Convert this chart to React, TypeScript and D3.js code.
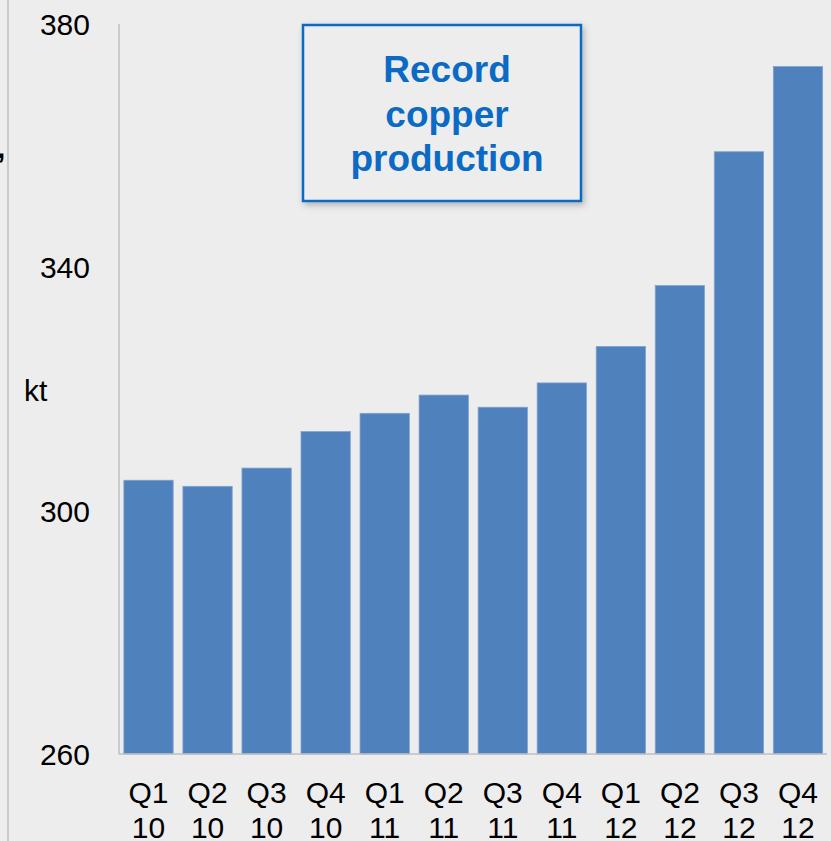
import React from "react";
import * as d3 from "d3";

const categories = ["Q1 10", "Q2 10", "Q3 10", "Q4 10", "Q1 11", "Q2 11", "Q3 11", "Q4 11", "Q1 12", "Q2 12", "Q3 12", "Q4 12"];
const production = [305, 304, 307, 313, 316, 319, 317, 321, 327, 337, 359, 373];
const yTicks = [260, 300, 340, 380];
const annotationLines = ["Record", "copper", "production"];
const unitLabel = "kt";

const W = 831;
const H = 841;

export default function App() {
  const x = d3.scaleBand<string>().domain(categories).range([119, 827.5]).paddingInner(0.165).paddingOuter(0.0825);
  const y = d3.scaleLinear().domain([260, 380]).range([754, 24]);
  const font = "Arial, 'Liberation Sans', sans-serif";
  const last = categories[categories.length - 1];
  const boxX0 = 303, boxX1 = 581, boxY0 = 25, boxY1 = 201;
  const lineY = 112.5;
  return (
    <svg width={W} height={H} style={{ position: "absolute", left: 0, top: 0, background: "#EDEDED" }} fontFamily={font}>
      <defs>
        <filter id="sh" x="-20%" y="-20%" width="140%" height="140%">
          <feDropShadow dx="2" dy="3" stdDeviation="3" floodColor="#000" floodOpacity="0.25" />
        </filter>
      </defs>
      <rect x={0} y={0} width={W} height={H} fill="#EDEDED" />
      <line x1={8} x2={8} y1={0} y2={H} stroke="#BDBDBD" strokeWidth={1.5} />
      <text x={-3} y={158} fontSize={30} fontWeight="bold" fill="#000">,</text>
      {/* axes */}
      <line x1={119} x2={119} y1={y(380)} y2={y(260)} stroke="#BFBFBF" strokeWidth={1.5} />
      {categories.map((c, i) => (
        <rect key={c} x={x(c)} y={y(production[i])} width={x.bandwidth()} height={y(260) - y(production[i])} fill="#4F81BD" stroke="#7FA2D0" strokeWidth={0.8} />
      ))}
      <line x1={119} x2={827} y1={y(260)} y2={y(260)} stroke="#BFBFBF" strokeWidth={1.5} />
      {yTicks.map((t) => (
        <text key={t} x={90} y={y(t) + 11} fontSize={30} textAnchor="end" fill="#000">{t}</text>
      ))}
      <text x={24} y={401} fontSize={30} fill="#000">{unitLabel}</text>
      {categories.map((c) => {
        const [q, yr] = c.split(" ");
        const cx = (x(c) as number) + x.bandwidth() / 2;
        return (
          <text key={c} x={cx} fontSize={30} textAnchor="middle" fill="#000">
            <tspan x={cx} y={803}>{q}</tspan>
            <tspan x={cx} y={838}>{yr}</tspan>
          </text>
        );
      })}
      {/* annotation */}
      <g filter="url(#sh)">
        <line x1={boxX1} x2={(x(last) as number) + x.bandwidth() * 0.4} y1={lineY} y2={lineY} stroke="#4A7EBB" strokeWidth={2} />
      </g>
      <rect x={boxX0} y={boxY0} width={boxX1 - boxX0} height={boxY1 - boxY0} fill="#EDEDED" stroke="#0A6AC4" strokeWidth={2.5} filter="url(#sh)" />
      {annotationLines.map((l, i) => (
        <text key={l} x={447} y={82 + i * 44.5} fontSize={37} fontWeight="bold" textAnchor="middle" fill="#0A6AC4">{l}</text>
      ))}
    </svg>
  );
}
